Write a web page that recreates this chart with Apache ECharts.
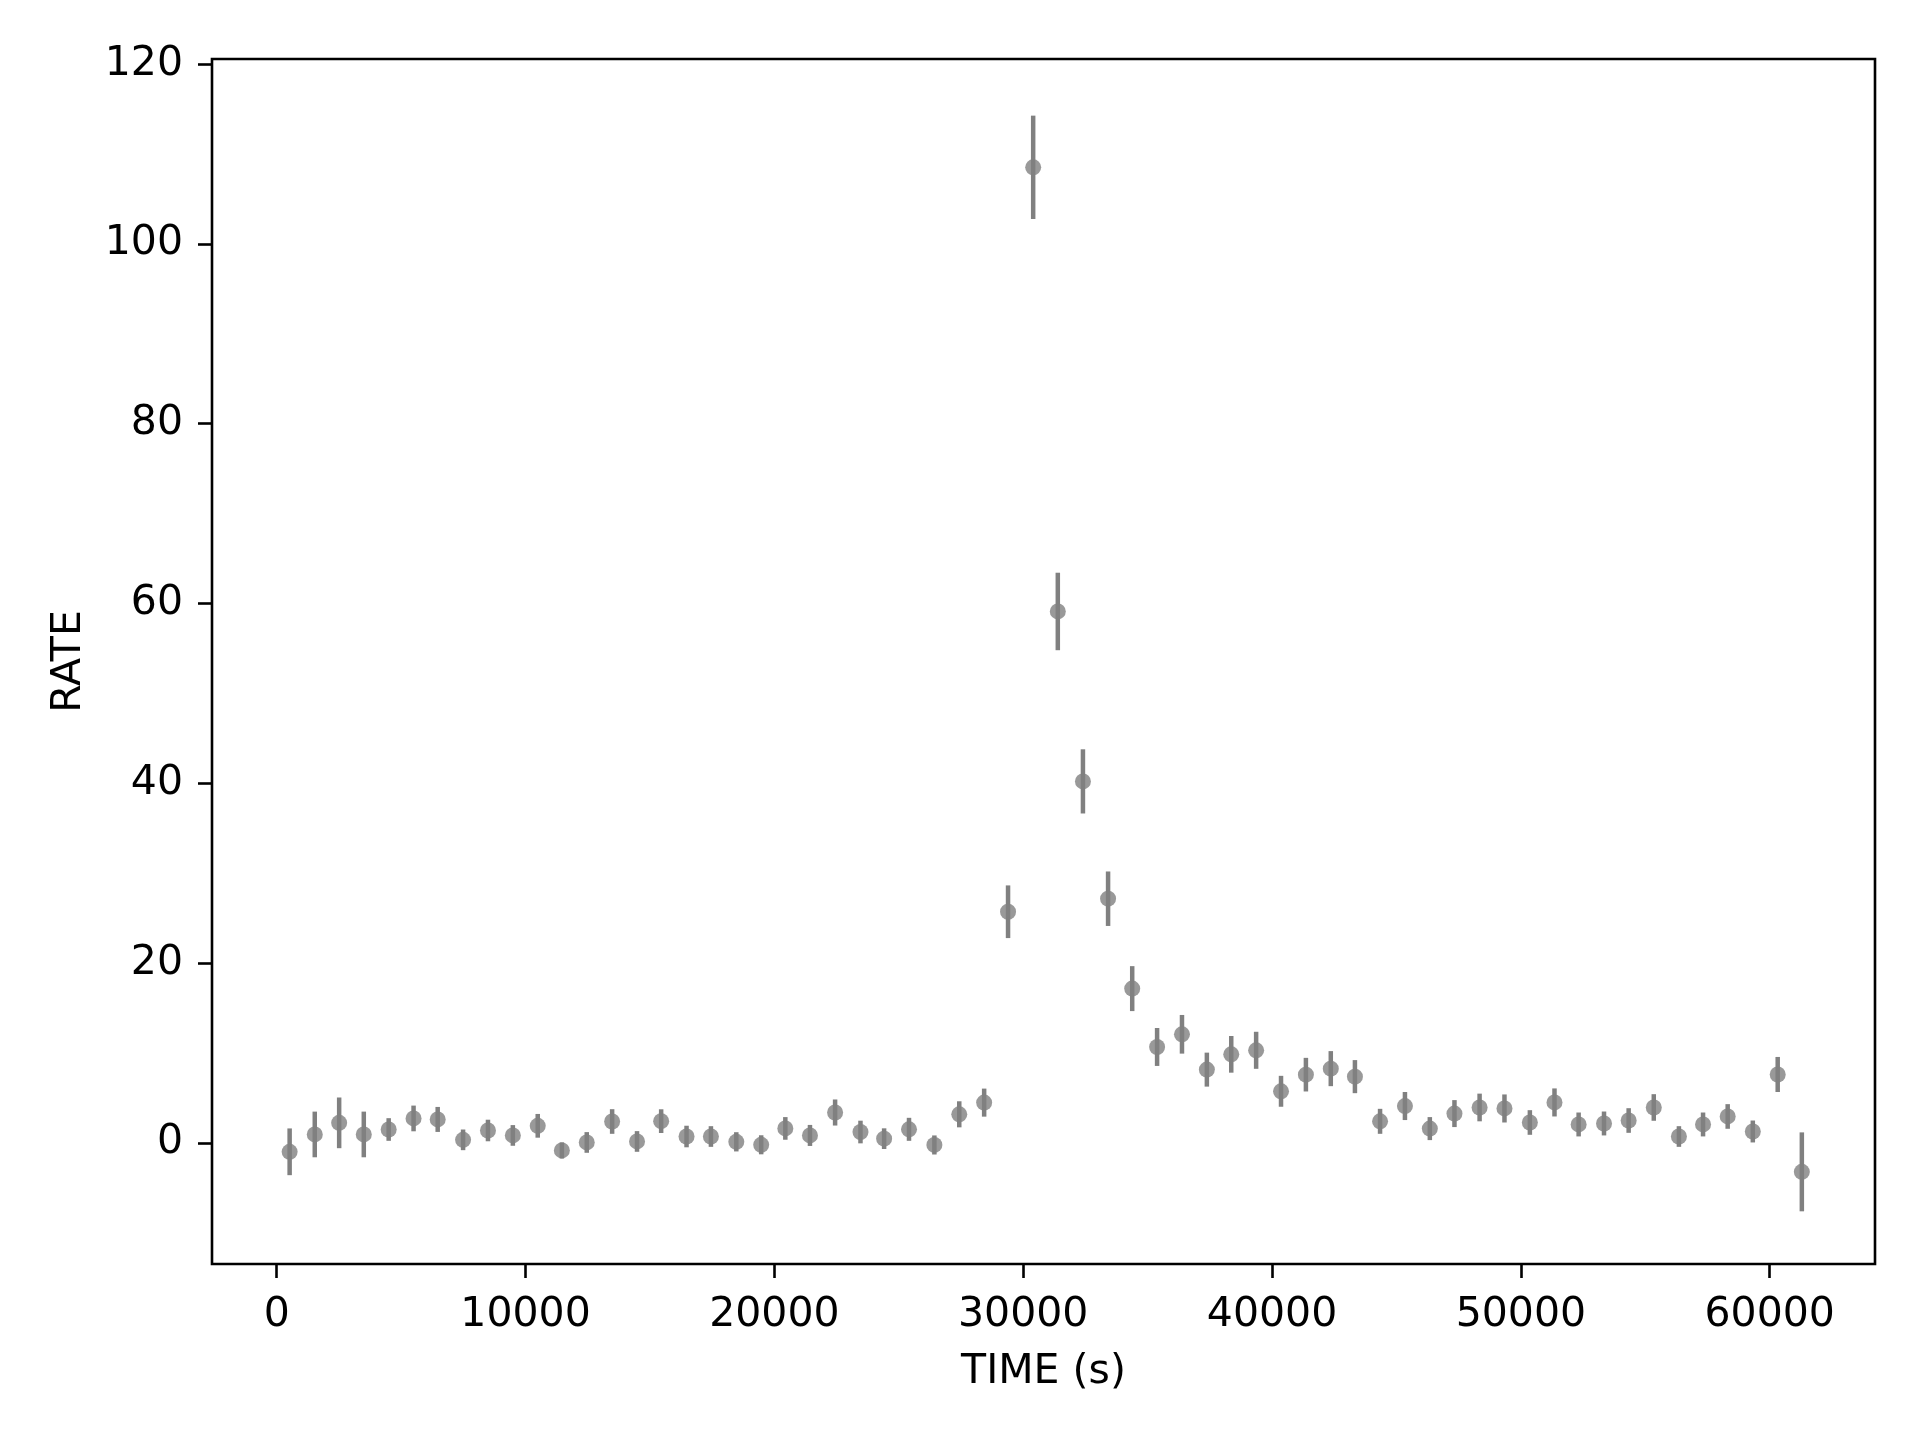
<!DOCTYPE html>
<html>
<head>
<meta charset="utf-8">
<script src="https://cdn.jsdelivr.net/npm/echarts@6/dist/echarts.min.js"></script>
<style>
  html, body { margin: 0; padding: 0; background: #fff; }
  #chart { width: 1920px; height: 1440px; }
</style>
</head>
<body>
<div id="chart"></div>
<script>
// light curve: bin time (s), rate, 1-sigma error
const times = [520, 1530, 2510, 3500, 4500, 5500, 6470, 7490, 8490, 9490,
  10490, 11460, 12460, 13480, 14480, 15450, 16470, 17450, 18470, 19470,
  20440, 21430, 22440, 23460, 24410, 25410, 26430, 27430, 28430, 29390,
  30400, 31390, 32400, 33410, 34380, 35380, 36380, 37380, 38360, 39360,
  40360, 41360, 42360, 43330, 44340, 45340, 46340, 47330, 48340, 49340,
  50360, 51350, 52320, 53340, 54330, 55340, 56350, 57320, 58310, 59320,
  60320, 61290];
const rates = [-1.0, 0.93, 2.22, 0.93, 1.48, 2.71, 2.6, 0.33, 1.37, 0.82,
  1.89, -0.85, 0.04, 2.37, 0.15, 2.41, 0.7, 0.7, 0.11, -0.22,
  1.6, 0.82, 3.37, 1.2, 0.46, 1.5, -0.24, 3.17, 4.47, 25.7,
  108.5, 59.1, 40.2, 27.15, 17.15, 10.66, 12.07, 8.14, 9.84, 10.29,
  5.73, 7.58, 8.25, 7.36, 2.39, 4.09, 1.58, 3.25, 3.93, 3.82,
  2.26, 4.49, 2.04, 2.15, 2.48, 3.93, 0.7, 2.04, 2.93, 1.26,
  7.6, -3.23];
const errors = [2.6, 2.54, 2.82, 2.54, 1.26, 1.43, 1.39, 1.15, 1.2, 1.15,
  1.32, 0.9, 1.15, 1.37, 1.15, 1.32, 1.2, 1.15, 1.07, 1.06,
  1.26, 1.17, 1.45, 1.26, 1.15, 1.28, 1.06, 1.45, 1.56, 2.93,
  5.75, 4.31, 3.57, 3.03, 2.5, 2.11, 2.15, 1.89, 2.04, 2.06,
  1.72, 1.87, 1.95, 1.84, 1.39, 1.56, 1.28, 1.5, 1.54, 1.56,
  1.37, 1.56, 1.33, 1.33, 1.37, 1.48, 1.15, 1.33, 1.37, 1.22,
  1.95, 4.39];
const xTicks = [0, 10000, 20000, 30000, 40000, 50000, 60000];
const yTicks = [0, 20, 40, 60, 80, 100, 120];

const points = times.map((t, i) => [t, rates[i]]);
const bars = times.map((t, i) => [t, rates[i] - errors[i], rates[i] + errors[i]]);

const FONT = 'DejaVu Sans';
const chart = echarts.init(document.getElementById('chart'));

chart.setOption({
  animation: false,
  backgroundColor: '#fff',
  textStyle: { fontFamily: FONT },
  grid: {
    left: 212, top: 59, width: 1663, height: 1205,
    show: true, borderColor: '#000', borderWidth: 2.6, backgroundColor: 'transparent'
  },
  xAxis: {
    type: 'value',
    min: -2600, max: 64230,
    name: 'TIME (s)',
    nameLocation: 'middle',
    nameGap: 88,
    nameTextStyle: { fontFamily: FONT, fontSize: 41, color: '#000' },
    axisLine: { show: false, onZero: false },
    splitLine: { show: false },
    axisTick: { show: true, inside: false, length: 14, lineStyle: { color: '#000', width: 2.6 }, customValues: xTicks },
    axisLabel: { margin: 31, fontSize: 41, color: '#000', fontFamily: FONT, customValues: xTicks, formatter: v => String(v) }
  },
  yAxis: {
    type: 'value',
    min: -13.48, max: 120.55,
    name: 'RATE',
    nameLocation: 'middle',
    nameGap: 122,
    nameTextStyle: { fontFamily: FONT, fontSize: 41, color: '#000' },
    axisLine: { show: false, onZero: false },
    splitLine: { show: false },
    axisTick: { show: true, inside: false, length: 14, lineStyle: { color: '#000', width: 2.6 }, customValues: yTicks },
    axisLabel: { margin: 29, fontSize: 41, color: '#000', fontFamily: FONT, customValues: yTicks, formatter: v => String(v) }
  },
  series: [
    {
      type: 'custom',
      data: bars,
      renderItem: function (params, api) {
        const top = api.coord([api.value(0), api.value(2)]);
        const bot = api.coord([api.value(0), api.value(1)]);
        return {
          type: 'line',
          shape: { x1: top[0], y1: top[1], x2: bot[0], y2: bot[1] },
          style: { stroke: '#808080', lineWidth: 4.5 }
        };
      },
      z: 2
    },
    {
      type: 'scatter',
      data: points,
      symbol: 'circle',
      symbolSize: 16,
      itemStyle: { color: '#808080' },
      z: 3
    }
  ]
});
</script>
</body>
</html>
